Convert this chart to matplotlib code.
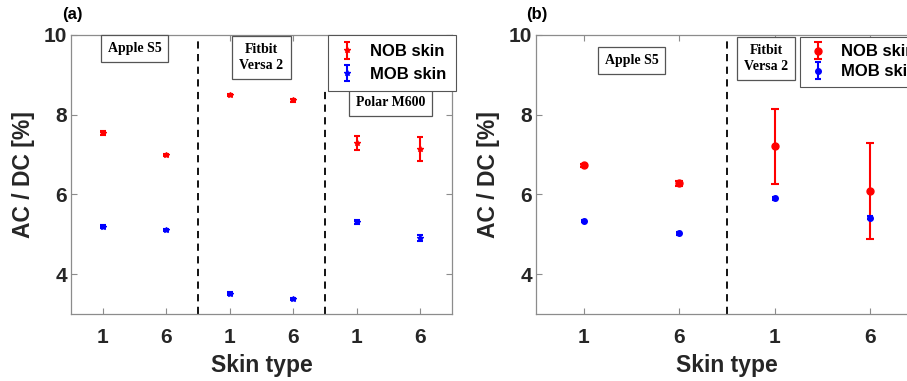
import matplotlib.pyplot as plt

# panel (a): Apple S5, Fitbit Versa 2, Polar M600 (skin type 1 and 6 each)
pos_a = [1, 2, 3, 4, 5, 6]
labels_a = ['1', '6', '1', '6', '1', '6']
nob_a = [7.54, 6.99, 8.50, 8.36, 7.29, 7.15]
nob_a_err = [0.04, 0.03, 0.03, 0.03, 0.17, 0.30]
mob_a = [5.19, 5.10, 3.51, 3.37, 5.31, 4.90]
mob_a_err = [0.04, 0.03, 0.03, 0.03, 0.05, 0.08]

# panel (b): Apple S5, Fitbit Versa 2
pos_b = [1, 2, 3, 4]
labels_b = ['1', '6', '1', '6']
nob_b = [6.73, 6.28, 7.21, 6.09]
nob_b_err = [0.03, 0.06, 0.94, 1.20]
mob_b = [5.33, 5.02, 5.90, 5.42]
mob_b_err = [0.03, 0.03, 0.03, 0.03]

W, H = 907, 381
fig = plt.figure(figsize=(W / 100, H / 100), dpi=100)

sans = ['Liberation Sans', 'DejaVu Sans']
serif = ['Liberation Serif', 'DejaVu Serif']
gray = '#8c8c8c'
txt = '#262626'


def style_axes(ax, pos, labels, xlim):
    ax.set_xlim(*xlim)
    ax.set_ylim(3, 10)
    ax.set_xticks(pos)
    ax.set_xticklabels(labels)
    ax.set_yticks([4, 6, 8, 10])
    ax.tick_params(direction='in', top=True, right=True, length=4,
                   color=gray, labelcolor=txt, labelsize=15)
    ax.tick_params(axis='x', pad=10)
    ax.tick_params(axis='y', pad=3)
    for lab in ax.get_xticklabels() + ax.get_yticklabels():
        lab.set_fontweight('bold')
        lab.set_family(sans)
    for s in ax.spines.values():
        s.set_color(gray)
        s.set_linewidth(0.9)
    ax.set_xlabel('Skin type', fontsize=16.5, fontweight='bold', family=sans,
                  color=txt, labelpad=5)
    ax.set_ylabel('AC / DC [%]', fontsize=16.5, fontweight='bold', family=sans,
                  color=txt, labelpad=6)


def box_text(ax, x, y, s):
    ax.text(x, y, s, ha='center', va='center', fontsize=10, fontweight='bold',
            family=serif, color='black', linespacing=1.35, zorder=5,
            bbox=dict(boxstyle='square,pad=0.5', fc='white', ec='#555555', lw=0.9))


def add_legend(ax, handles, x0, y0, bpad, lspace):
    leg = ax.legend(handles=handles, loc='upper left',
                    bbox_to_anchor=(x0 / W, 1 - y0 / H),
                    bbox_transform=fig.transFigure, borderaxespad=0,
                    fancybox=False, edgecolor='#555555', framealpha=1,
                    handlelength=1.2, handletextpad=0.8, borderpad=bpad,
                    labelspacing=lspace,
                    prop={'family': sans, 'weight': 'bold', 'size': 12})
    leg.get_frame().set_linewidth(0.8)
    leg.set_zorder(6)


# ---- panel (a)
ax1 = fig.add_axes([71 / W, 1 - 314 / H, 381 / W, 279 / H])
h1 = ax1.errorbar(pos_a, nob_a, yerr=nob_a_err, fmt='*', color='red', ms=4,
                  elinewidth=1.5, capsize=2.5, capthick=1.5, label='NOB skin')
h2 = ax1.errorbar(pos_a, mob_a, yerr=mob_a_err, fmt='*', color='blue', ms=4,
                  elinewidth=1.5, capsize=2.5, capthick=1.5, label='MOB skin')
ax1.axvline(2.5, color='black', ls=(0, (4, 3)), lw=1.3)
ax1.plot([4.5, 4.5], [3, 8.67], color='black', ls=(0, (4, 3)), lw=1.3)
style_axes(ax1, pos_a, labels_a, (0.5, 6.5))
box_text(ax1, 1.5, 9.66, 'Apple S5')
box_text(ax1, 3.5, 9.43, 'Fitbit\nVersa 2')
box_text(ax1, 5.53, 8.31, 'Polar M600')
add_legend(ax1, [h1, h2], 328, 35, 0.55, 0.45)
fig.text(62 / W, 1 - 15 / H, '(a)', fontsize=12, fontweight='bold',
         family=sans, ha='left', va='center')

# ---- panel (b)
ax2 = fig.add_axes([536 / W, 1 - 314 / H, 382 / W, 279 / H])
h3 = ax2.errorbar(pos_b, nob_b, yerr=nob_b_err, fmt='o', color='red', ms=5,
                  elinewidth=1.5, capsize=3, capthick=1.5, label='NOB skin')
h4 = ax2.errorbar(pos_b, mob_b, yerr=mob_b_err, fmt='o', color='blue', ms=4,
                  elinewidth=1.5, capsize=2, capthick=1.5, label='MOB skin')
ax2.axvline(2.5, color='black', ls=(0, (4, 3)), lw=1.3)
style_axes(ax2, pos_b, labels_b, (0.5, 4.5))
box_text(ax2, 1.5, 9.37, 'Apple S5')
box_text(ax2, 2.91, 9.41, 'Fitbit\nVersa 2')
add_legend(ax2, [h3, h4], 800, 37, 0.45, 0.3)
fig.text(526 / W, 1 - 15 / H, '(b)', fontsize=12, fontweight='bold',
         family=sans, ha='left', va='center')

fig.savefig('out.png', dpi=100)
